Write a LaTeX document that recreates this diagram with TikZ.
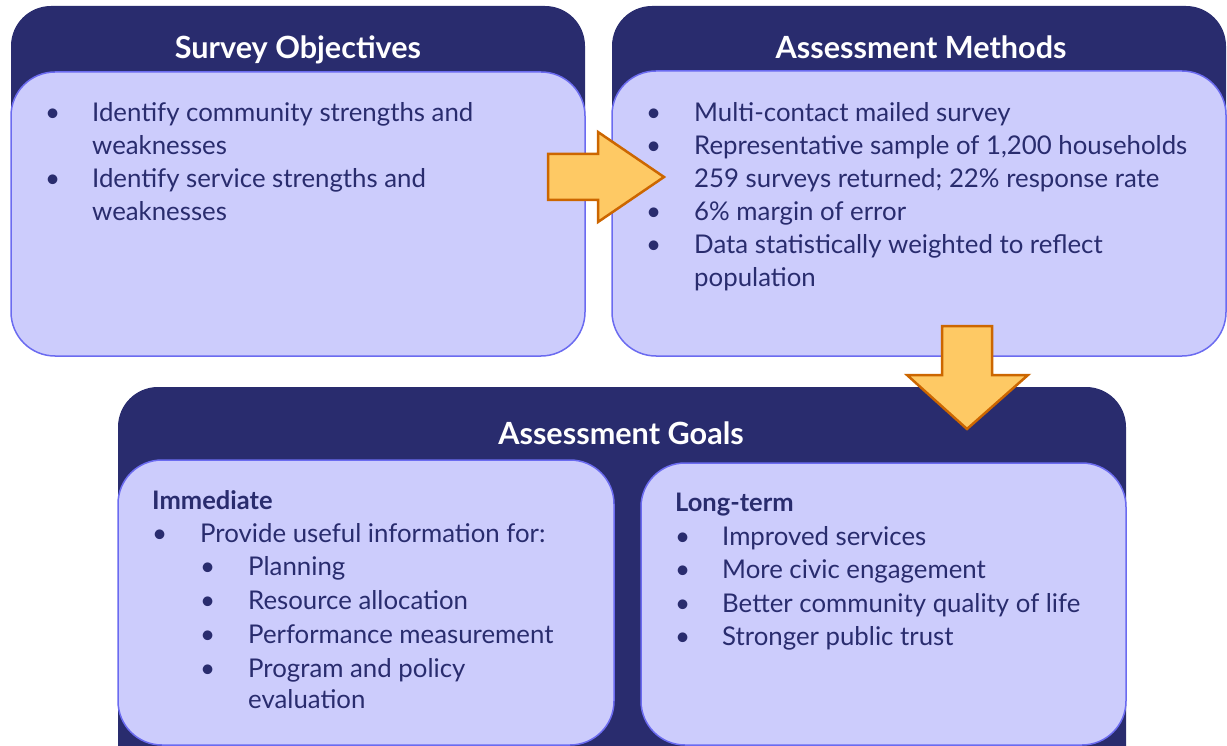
\documentclass[tikz,border=0pt]{standalone}
\usepackage{fontspec}
\setmainfont{Lato}
\definecolor{navy}{HTML}{292C6E}
\definecolor{lightbox}{HTML}{CCCCFC}
\definecolor{boxedge}{HTML}{6B6BF0}
\definecolor{arrowfill}{HTML}{FEC964}
\definecolor{arrowedge}{HTML}{CC6600}
\tikzset{
  outerbox/.style={fill=navy, draw=none, rounded corners=40pt},
  innerbox/.style={fill=lightbox, draw=boxedge, line width=1.5pt, rounded corners=44pt},
  blockarrow/.style={fill=arrowfill, draw=arrowedge, line width=2.5pt, miter limit=10},
  title/.style={anchor=base, inner sep=0pt, text=white, font=\fontsize{30.6}{36}\selectfont\bfseries},
  txt/.style={anchor=base west, inner sep=0pt, text=navy, font=\fontsize{25.8}{31}\selectfont},
  head/.style={anchor=base west, inner sep=0pt, text=navy, font=\fontsize{25.5}{30}\selectfont\bfseries},
  dot/.style={anchor=base west, inner sep=0pt, text=navy, font=\fontsize{26}{31}\selectfont}
}
\begin{document}
\begin{tikzpicture}[x=1pt,y=-1pt]
\useasboundingbox (0,0) rectangle (1227,746);
\clip (0,0) rectangle (1227,746);
% ---------- Survey Objectives ----------
\draw[outerbox] (11,6) rectangle (585,200);
\draw[innerbox] (11,72) rectangle (585,356);
\node[title] (t1) at (298,59) {Survey Objectives};
\node[dot] (o1d) at (45,122) {•};
\node[txt] (o1) at (92,122) {Identify community strengths and};
\node[txt] (o1b) at (92,155) {weaknesses};
\node[dot] (o2d) at (45,188) {•};
\node[txt] (o2) at (92,188) {Identify service strengths and};
\node[txt] (o2b) at (92,221) {weaknesses};
% ---------- Assessment Methods ----------
\draw[outerbox] (612,6) rectangle (1226,200);
\draw[innerbox] (612,71) rectangle (1226,356);
\node[title] (t2) at (921,59) {Assessment Methods};
\node[dot] (m1d) at (646,122) {•};
\node[txt] (m1) at (694,122) {Multi-contact mailed survey};
\node[dot] (m2d) at (646,155) {•};
\node[txt] (m2) at (694,155) {Representative sample of 1,200 households};
\node[dot] (m3d) at (646,188) {•};
\node[txt] (m3) at (694,188) {259 surveys returned; 22\% response rate};
\node[dot] (m4d) at (646,221) {•};
\node[txt] (m4) at (694,221) {6\% margin of error};
\node[dot] (m5d) at (646,254) {•};
\node[txt] (m5) at (694,254) {Data statistically weighted to reflect};
\node[txt] (m5b) at (694,287) {population};
% ---------- Assessment Goals ----------
\draw[outerbox] (118,387) rectangle (1126,800);
\node[title] (t3) at (621,444) {Assessment Goals};
\draw[innerbox] (118,460) rectangle (614,745);
\draw[innerbox] (641,463) rectangle (1126,745);
\node[head] (gi) at (152,509) {Immediate};
\node[dot] (g1d) at (152,542) {•};
\node[txt] (g1) at (200,542) {Provide useful information for:};
\node[dot] (g2d) at (200,575) {•};
\node[txt] (g2) at (248,575) {Planning};
\node[dot] (g3d) at (200,609) {•};
\node[txt] (g3) at (248,609) {Resource allocation};
\node[dot] (g4d) at (200,643) {•};
\node[txt] (g4) at (248,643) {Performance measurement};
\node[dot] (g5d) at (200,677) {•};
\node[txt] (g5) at (248,677) {Program and policy};
\node[txt] (g5b) at (248,708) {evaluation};
\node[head] (gl) at (675,511) {Long-term};
\node[dot] (l1d) at (675,545) {•};
\node[txt] (l1) at (722,545) {Improved services};
\node[dot] (l2d) at (675,578) {•};
\node[txt] (l2) at (722,578) {More civic engagement};
\node[dot] (l3d) at (675,612) {•};
\node[txt] (l3) at (722,612) {Better community quality of life};
\node[dot] (l4d) at (675,645) {•};
\node[txt] (l4) at (722,645) {Stronger public trust};
% ---------- Block arrows ----------
\draw[blockarrow] (548,154) -- (598,154) -- (598,132) -- (664,177) -- (598,222) -- (598,200) -- (548,200) -- cycle;
\draw[blockarrow] (942,326) -- (992,326) -- (992,375) -- (1028,375) -- (967,429) -- (907,375) -- (942,375) -- cycle;
\end{tikzpicture}
\end{document}
